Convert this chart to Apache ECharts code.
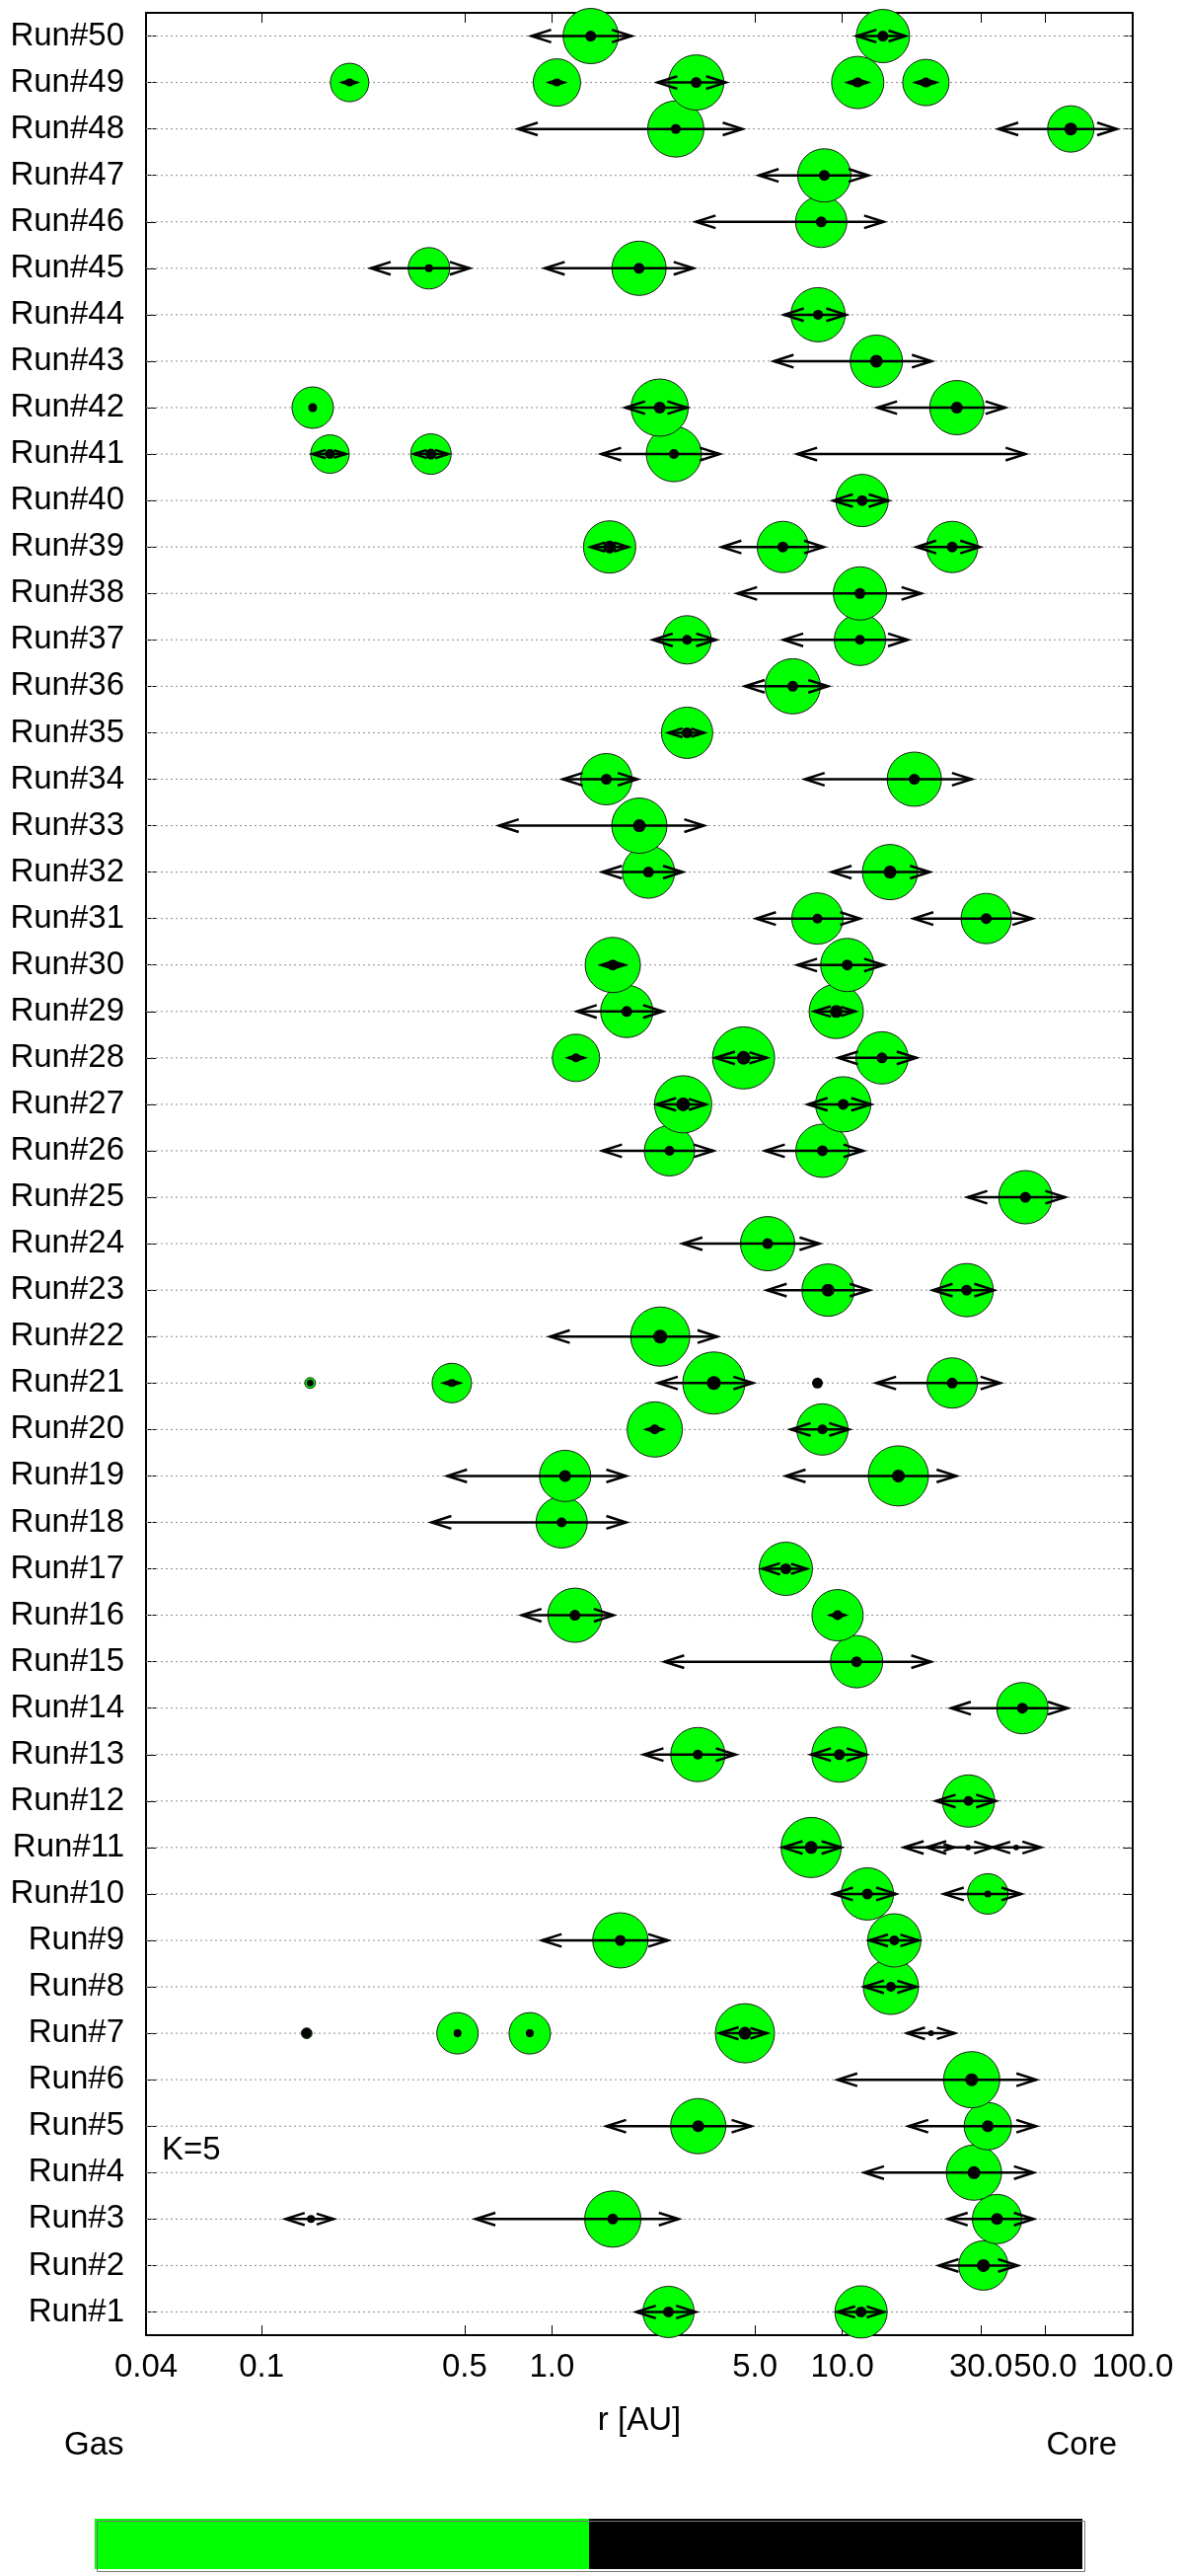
<!DOCTYPE html>
<html>
<head>
<meta charset="utf-8">
<script src="https://cdn.jsdelivr.net/npm/echarts@6/dist/echarts.min.js"></script>
<style>
html,body{margin:0;padding:0;background:#fff;}
#chart{width:1200px;height:2610px;}
</style>
</head>
<body>
<div id="chart"></div>
<script>
// ---------------- DATA ----------------
const runs = ['Run#1','Run#2','Run#3','Run#4','Run#5','Run#6','Run#7','Run#8','Run#9','Run#10',
  'Run#11','Run#12','Run#13','Run#14','Run#15','Run#16','Run#17','Run#18','Run#19','Run#20',
  'Run#21','Run#22','Run#23','Run#24','Run#25','Run#26','Run#27','Run#28','Run#29','Run#30',
  'Run#31','Run#32','Run#33','Run#34','Run#35','Run#36','Run#37','Run#38','Run#39','Run#40',
  'Run#41','Run#42','Run#43','Run#44','Run#45','Run#46','Run#47','Run#48','Run#49','Run#50'];

const tickValues = [0.04, 0.1, 0.5, 1, 5, 10, 30, 50, 100];
const tickLabels = ['0.04', '0.1', '0.5', '1.0', '5.0', '10.0', '30.0', '50.0', '100.0'];

// orbital radius r [AU] of each planet, one list per run (Run#1 first)
const orbitR = [
  [2.52, 11.6],
  [30.6],
  [0.148, 1.62, 34.1],
  [28.4],
  [3.19, 31.7],
  [27.9],
  [0.143, 0.473, 0.839, 4.62, 20.2],
  [14.7],
  [1.72, 15.1],
  [12.2, 31.7],
  [7.81, 21.7, 27.1, 39.7],
  [27.2],
  [3.18, 9.77],
  [41.7],
  [11.2],
  [1.20, 9.63],
  [6.39],
  [1.08],
  [1.11, 15.6],
  [2.26, 8.54],
  [0.147, 0.452, 3.61, 8.21, 23.9],
  [2.36],
  [8.93, 26.8],
  [5.53],
  [42.7],
  [2.54, 8.54],
  [2.83, 10.07],
  [1.21, 4.57, 13.7],
  [1.81, 9.53],
  [1.62, 10.4],
  [8.21, 31.3],
  [2.15, 14.6],
  [2.00],
  [1.54, 17.7],
  [2.92],
  [6.75],
  [2.92, 11.5],
  [11.5],
  [1.58, 6.24, 23.9],
  [11.7],
  [0.172, 0.383, 2.63, 24.9],
  [0.150, 2.35, 24.8],
  [13.1],
  [8.25],
  [0.377, 1.995],
  [8.46],
  [8.67],
  [2.67, 61.2],
  [0.201, 1.04, 3.14, 11.3, 19.4],
  [1.36, 13.8]
];

// pericentre [AU] (null = circular, no arrows)
const orbitPeri = [
  [1.95, 9.63],
  [21.5],
  [0.121, 0.546, 23.1],
  [11.9],
  [1.54, 16.9],
  [9.63],
  [null, null, null, 3.78, 16.7],
  [11.9],
  [0.923, 12.4],
  [9.3, 22.4],
  [6.24, 16.3, 19.5, 32.9],
  [21.0],
  [2.07, 7.81],
  [23.7],
  [2.44],
  [0.787, 9.1],
  [5.31],
  [0.385],
  [0.436, 6.39],
  [2.12, 6.65],
  [null, 0.425, 2.32, null, 13.1],
  [0.985],
  [5.50, 20.5],
  [2.82],
  [27.0],
  [1.49, 5.42],
  [2.29, 7.61],
  [1.14, 3.65, 9.68],
  [1.22, 8.01],
  [1.48, 7.0],
  [5.05, 17.6],
  [1.49, 9.2],
  [0.657],
  [1.09, 7.43],
  [2.52],
  [4.62],
  [2.23, 6.27],
  [4.35],
  [1.36, 3.84, 18.0],
  [9.3],
  [0.150, 0.335, 1.48, 7.0],
  [null, 1.79, 13.2],
  [5.81],
  [6.30],
  [0.238, 0.946],
  [3.13],
  [5.16],
  [0.764, 34.5],
  [0.19, 0.98, 2.31, 10.45, 17.9],
  [0.85, 11.2]
];

// apocentre [AU]
const orbitApo = [
  [3.13, 13.9],
  [40.2],
  [0.177, 2.73, 45.6],
  [45.6],
  [4.86, 46.5],
  [46.5],
  [null, null, null, 5.50, 24.4],
  [18.0],
  [2.51, 18.3],
  [15.3, 41.3],
  [9.92, 24.3, 32.9, 48.3],
  [33.8],
  [4.29, 12.1],
  [59.7],
  [20.2],
  [1.63, 10.2],
  [7.54],
  [1.80],
  [1.80, 24.7],
  [2.40, 10.54],
  [null, 0.48, 4.93, null, 35.0],
  [3.71],
  [12.4, 33.3],
  [8.33],
  [58.5],
  [3.60, 11.8],
  [3.39, 12.55],
  [1.29, 5.50, 18.0],
  [2.41, 11.08],
  [1.78, 13.9],
  [11.5, 45.1],
  [2.82, 20.0],
  [3.34],
  [1.97, 27.9],
  [3.34],
  [8.93],
  [3.67, 16.8],
  [18.7],
  [1.83, 8.63, 29.8],
  [14.4],
  [0.195, 0.439, 3.78, 42.7],
  [null, 2.92, 36.4],
  [20.3],
  [10.3],
  [0.52, 3.07],
  [13.9],
  [12.3],
  [4.53, 88.2],
  [0.212, 1.10, 3.97, 12.2, 21.0],
  [1.88, 16.5]
];

// gas (envelope) mass, arbitrary units
const gasMass = [
  [6.76, 7.02],
  [6.25],
  [0, 8.12, 6.25],
  [7.84],
  [7.84, 5.76],
  [8.12],
  [0.30, 4.41, 4.41, 9.00, 0],
  [7.84],
  [7.84, 7.29],
  [7.02, 4.20],
  [9.30, 0, 0, 0],
  [7.02],
  [7.56, 7.84],
  [6.76],
  [7.02],
  [7.56, 6.76],
  [7.29],
  [6.76],
  [6.76, 9.30],
  [7.84, 6.76],
  [0.30, 4.00, 9.92, 0, 6.50],
  [9.00],
  [7.02, 7.29],
  [7.56],
  [7.29],
  [6.50, 7.29],
  [8.41, 7.84],
  [5.76, 9.92, 7.02],
  [7.02, 7.56],
  [7.84, 7.29],
  [6.76, 6.50],
  [7.02, 7.84],
  [7.84],
  [6.76, 7.56],
  [6.76],
  [7.84],
  [6.00, 6.76],
  [7.29],
  [7.02, 6.76, 6.76],
  [7.02],
  [3.80, 4.20, 7.84, 0],
  [4.41, 8.41, 7.56],
  [7.02],
  [7.56],
  [4.41, 7.56],
  [6.76],
  [7.29],
  [8.12, 5.52],
  [3.80, 5.76, 7.84, 7.02, 5.52],
  [7.84, 7.29]
];

// core mass, arbitrary units
const coreMass = [
  [11.8, 11.8],
  [16.5],
  [6.3, 11.8, 14.1],
  [16.5],
  [14.1, 14.1],
  [16.5],
  [9.8, 6.3, 6.3, 16.5, 3.5],
  [9.8],
  [11.8, 9.8],
  [11.8, 4.8],
  [16.5, 0.4, 3.5, 3.5],
  [9.8],
  [9.8, 11.8],
  [11.8],
  [11.8],
  [11.8, 9.8],
  [11.8],
  [9.8],
  [14.1, 16.5],
  [9.8, 9.8],
  [4.8, 6.3, 19.1, 11.8, 11.8],
  [19.1],
  [16.5, 11.8],
  [11.8],
  [11.8],
  [9.8, 11.8],
  [19.1, 11.8],
  [7.9, 19.1, 11.8],
  [11.8, 16.5],
  [11.8, 11.8],
  [9.8, 11.8],
  [11.8, 16.5],
  [16.5],
  [11.8, 11.8],
  [11.8],
  [11.8],
  [9.8, 9.8],
  [11.8],
  [16.5, 11.8, 11.8],
  [11.8],
  [9.8, 11.8, 9.8, 0.4],
  [7.9, 14.1, 14.1],
  [16.5],
  [9.8],
  [6.3, 11.8],
  [11.8],
  [11.8],
  [9.8, 16.5],
  [6.3, 6.3, 11.8, 9.8, 9.8],
  [11.8, 11.8]
];

// ---------------- BUILD ----------------
const FONT = 'Liberation Sans, Arial, Helvetica, sans-serif';
const planets = [];
runs.forEach(function (name, i) {
  orbitR[i].forEach(function (r, j) {
    const p = orbitPeri[i][j], a = orbitApo[i][j];
    planets.push([r, name, p == null ? NaN : p, a == null ? NaN : a, gasMass[i][j], coreMass[i][j]]);
  });
});

function gasDiameter(m) { return 20 * Math.sqrt(m); }
function coreDiameter(m) { return 3.2 * Math.sqrt(m); }

function labelFor(v) {
  for (let k = 0; k < tickValues.length; k++) {
    if (Math.abs(v - tickValues[k]) / tickValues[k] < 1e-6) return tickLabels[k];
  }
  return '';
}

function renderPlanet(params, api) {
  const yi = api.value(1);
  const r = api.value(0), peri = api.value(2), apo = api.value(3);
  const gas = api.value(4), core = api.value(5);
  const c = api.coord([r, yi]);
  const kids = [];
  const dg = gasDiameter(gas);
  if (dg > 0) {
    kids.push({type: 'circle', shape: {cx: c[0], cy: c[1], r: dg / 2},
      style: {fill: '#00ff00', stroke: '#1a1a1a', lineWidth: 1}});
  }
  if (peri > 0 && apo > 0) {
    const a = api.coord([peri, yi]), b = api.coord([apo, yi]);
    const y = c[1];
    const st = {stroke: '#000', fill: null, lineWidth: 2.5};
    kids.push({type: 'line', shape: {x1: a[0], y1: y, x2: b[0], y2: y}, style: st});
    const hl = Math.min(20, (c[0] - a[0]) * 0.75);
    const hr = Math.min(20, (b[0] - c[0]) * 0.75);
    kids.push({type: 'polyline', shape: {points: [[a[0] + hl, y - hl * 0.32], [a[0], y], [a[0] + hl, y + hl * 0.32]]}, style: st});
    kids.push({type: 'polyline', shape: {points: [[b[0] - hr, y - hr * 0.32], [b[0], y], [b[0] - hr, y + hr * 0.32]]}, style: st});
  }
  const dc = coreDiameter(core);
  if (dc > 0) {
    kids.push({type: 'circle', shape: {cx: c[0], cy: c[1], r: dc / 2}, style: {fill: '#000'}});
  }
  return {type: 'group', children: kids};
}

function renderGridLine(params, api) {
  const cs = params.coordSys;
  const y = api.coord([1, api.value(0)])[1];
  return {type: 'line', shape: {x1: cs.x, y1: y, x2: cs.x + cs.width, y2: y},
    style: {stroke: '#8c8c8c', lineWidth: 1, lineDash: [2, 3]}};
}

const axisLineStyle = {color: '#000', width: 2};
const chart = echarts.init(document.getElementById('chart'), null, {renderer: 'canvas'});

chart.setOption({
  animation: false,
  backgroundColor: '#fff',
  textStyle: {fontFamily: FONT},
  grid: {left: 148, right: 52, top: 13, bottom: 244, containLabel: false, outerBoundsMode: 'none'},
  xAxis: [
    {
      type: 'log', logBase: 10, min: 0.04, max: 100, position: 'bottom',
      axisLine: {show: true, onZero: false, lineStyle: axisLineStyle},
      axisTick: {show: true, inside: true, length: 10, customValues: tickValues, lineStyle: {color: '#000', width: 1}},
      minorTick: {show: false},
      axisLabel: {show: true, customValues: tickValues, formatter: labelFor, fontSize: 33, color: '#000', margin: 16, fontFamily: FONT, hideOverlap: false},
      splitLine: {show: false},
      name: 'r [AU]', nameLocation: 'middle', nameGap: 70,
      nameTextStyle: {fontSize: 33, color: '#000', fontFamily: FONT}
    },
    {
      type: 'log', logBase: 10, min: 0.04, max: 100, position: 'top',
      axisLine: {show: true, onZero: false, lineStyle: axisLineStyle},
      axisTick: {show: true, inside: true, length: 10, customValues: tickValues, lineStyle: {color: '#000', width: 1}},
      axisLabel: {show: false},
      splitLine: {show: false}
    }
  ],
  yAxis: [
    {
      type: 'category', data: runs, position: 'left', boundaryGap: true,
      axisLine: {show: true, onZero: false, lineStyle: axisLineStyle},
      axisTick: {show: true, inside: true, length: 10, alignWithLabel: true, lineStyle: {color: '#000', width: 1}},
      axisLabel: {show: true, interval: 0, fontSize: 33, color: '#000', margin: 22, fontFamily: FONT},
      splitLine: {show: false}
    },
    {
      type: 'category', data: runs, position: 'right', boundaryGap: true,
      axisLine: {show: true, onZero: false, lineStyle: axisLineStyle},
      axisTick: {show: true, inside: true, length: 10, alignWithLabel: true, lineStyle: {color: '#000', width: 1}},
      axisLabel: {show: false},
      splitLine: {show: false}
    }
  ],
  graphic: [
    {type: 'text', left: 164, top: 2162, style: {text: 'K=5', font: '33px ' + FONT, fill: '#000'}},
    {type: 'text', left: 65, top: 2461, style: {text: 'Gas', font: '33px ' + FONT, fill: '#000'}},
    {type: 'text', right: 68, top: 2461, style: {text: 'Core', font: '33px ' + FONT, fill: '#000'}},
    {type: 'rect', left: 96, top: 2552, shape: {width: 501, height: 51}, style: {fill: '#00ff00'}},
    {type: 'rect', left: 597, top: 2552, shape: {width: 500, height: 51}, style: {fill: '#000'}},
    {type: 'rect', left: 96, top: 2552, shape: {width: 1001, height: 51}, style: {fill: null, stroke: '#777', lineWidth: 1}}
  ],
  series: [
    {
      type: 'custom', name: 'grid', xAxisIndex: 0, yAxisIndex: 0, z: 1, silent: true,
      encode: {y: 0},
      data: runs.map(function (r) { return [r]; }),
      renderItem: renderGridLine
    },
    {
      type: 'custom', name: 'planets', xAxisIndex: 0, yAxisIndex: 0, z: 3,
      encode: {x: 0, y: 1},
      data: planets,
      renderItem: renderPlanet
    }
  ]
});
</script>
</body>
</html>
